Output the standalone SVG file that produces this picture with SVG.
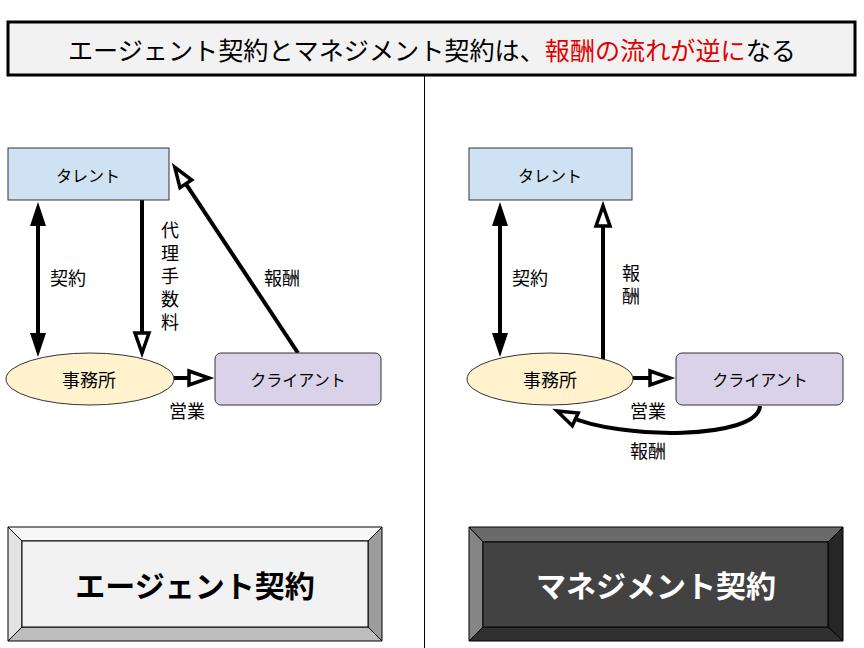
<svg xmlns="http://www.w3.org/2000/svg" width="864" height="648" viewBox="0 0 864 648">
<style>
text{font-family:"Noto Sans CJK JP","Noto Sans",sans-serif;fill:#000;}
.lbl{font-size:18px;text-anchor:middle;dominant-baseline:central;}
.vert{font-size:18px;writing-mode:vertical-rl;letter-spacing:5px;}
.kana{font-size:16px;text-anchor:middle;dominant-baseline:central;}
.node{stroke:#333;stroke-width:1;}
.talent{fill:#cfe2f3;}
.office{fill:#fff2cc;}
.client{fill:#d9d2e9;}
.conn{fill:none;stroke:#000;stroke-width:4;}
.bevel{stroke:#000;stroke-width:1;stroke-linejoin:miter;}
.btn{font-size:30px;font-weight:bold;text-anchor:middle;dominant-baseline:central;}
</style>
<defs>
<marker id="filled" viewBox="0 0 24 16" refX="12" refY="8" markerWidth="24" markerHeight="16" markerUnits="userSpaceOnUse" orient="auto-start-reverse" overflow="visible">
<path d="M0,0 L24,8 L0,16 z" fill="#000"/>
</marker>
<marker id="open" viewBox="0 0 20 20" refX="8" refY="10" markerWidth="20" markerHeight="20" markerUnits="userSpaceOnUse" orient="auto" overflow="visible">
<path d="M0,3 L20,10 L0,17 z" fill="#fff" stroke="#000" stroke-width="3.5"/>
</marker>
</defs>
<rect width="864" height="648" fill="#fff"/>

<g id="title">
<rect x="8" y="22" width="847" height="53" fill="#f2f2f2" stroke="#000" stroke-width="3"/>
<text x="432" y="49" font-size="25" text-anchor="middle" dominant-baseline="central" textLength="728" lengthAdjust="spacingAndGlyphs">エージェント契約とマネジメント契約は、<tspan fill="#e00000">報酬の流れが逆に</tspan>なる</text>
</g>

<line x1="424.5" y1="76" x2="424.5" y2="648" stroke="#000" stroke-width="1"/>

<g id="connectors">
<path class="conn" d="M38,214 L38,345" marker-start="url(#filled)" marker-end="url(#filled)"/>
<path class="conn" d="M142,200 L142,341" marker-end="url(#open)"/>
<path class="conn" d="M298,353 L181.4,177.2" marker-end="url(#open)"/>
<path class="conn" d="M173,378 L197,378" marker-end="url(#open)"/>
<path class="conn" d="M500,214 L500,345" marker-start="url(#filled)" marker-end="url(#filled)"/>
<path class="conn" d="M603,359 L603,218" marker-end="url(#open)"/>
<path class="conn" d="M633,378 L658,378" marker-end="url(#open)"/>
<path class="conn" d="M760,406 C757,440 620,440 568,416" marker-end="url(#open)"/>
</g>

<g id="labels">
<text class="lbl" x="68" y="277">契約</text>
<text class="vert" x="170" y="221">代理手数料</text>
<text class="lbl" x="282" y="277">報酬</text>
<text class="lbl" x="187" y="410">営業</text>
<text class="lbl" x="530" y="277">契約</text>
<text class="vert" x="631" y="264">報酬</text>
<text class="lbl" x="648" y="410">営業</text>
<text class="lbl" x="648" y="450">報酬</text>
</g>

<g id="talent-left">
<rect class="node talent" x="8" y="148" width="161" height="52"/>
<text class="kana" x="88" y="175">タレント</text>
</g>
<g id="office-left">
<ellipse class="node office" cx="90" cy="379" rx="84" ry="26"/>
<text class="lbl" x="89" y="379">事務所</text>
</g>
<g id="client-left">
<rect class="node client" x="215" y="353" width="166" height="52" rx="6"/>
<text class="kana" x="298" y="379">クライアント</text>
</g>

<g id="talent-right">
<rect class="node talent" x="469" y="148" width="163" height="52"/>
<text class="kana" x="550" y="175">タレント</text>
</g>
<g id="office-right">
<ellipse class="node office" cx="550" cy="379" rx="83" ry="26"/>
<text class="lbl" x="550" y="379">事務所</text>
</g>
<g id="client-right">
<rect class="node client" x="676" y="353" width="167" height="52" rx="6"/>
<text class="kana" x="760" y="379">クライアント</text>
</g>

<g id="agent-button">
<polygon class="bevel" points="8,527 382,527 368,541 22,541" fill="#f7f7f7"/>
<polygon class="bevel" points="8,527 22,541 22,627 8,641" fill="#e2e2e2"/>
<polygon class="bevel" points="382,527 382,641 368,627 368,541" fill="#9c9c9c"/>
<polygon class="bevel" points="8,641 22,627 368,627 382,641" fill="#bdbdbd"/>
<rect class="bevel" x="22" y="541" width="346" height="86" fill="#f2f2f2"/>
<text class="btn" x="195" y="584">エージェント契約</text>
</g>

<g id="management-button">
<polygon class="bevel" points="469,527 843,527 828,542 483,542" fill="#6a6a6a"/>
<polygon class="bevel" points="469,527 483,542 483,627 469,641" fill="#858585"/>
<polygon class="bevel" points="843,527 843,641 828,627 828,542" fill="#262626"/>
<polygon class="bevel" points="469,641 483,627 828,627 843,641" fill="#303030"/>
<rect class="bevel" x="483" y="542" width="345" height="85" fill="#424242"/>
<text class="btn" x="656" y="584" style="fill:#fff">マネジメント契約</text>
</g>
</svg>
